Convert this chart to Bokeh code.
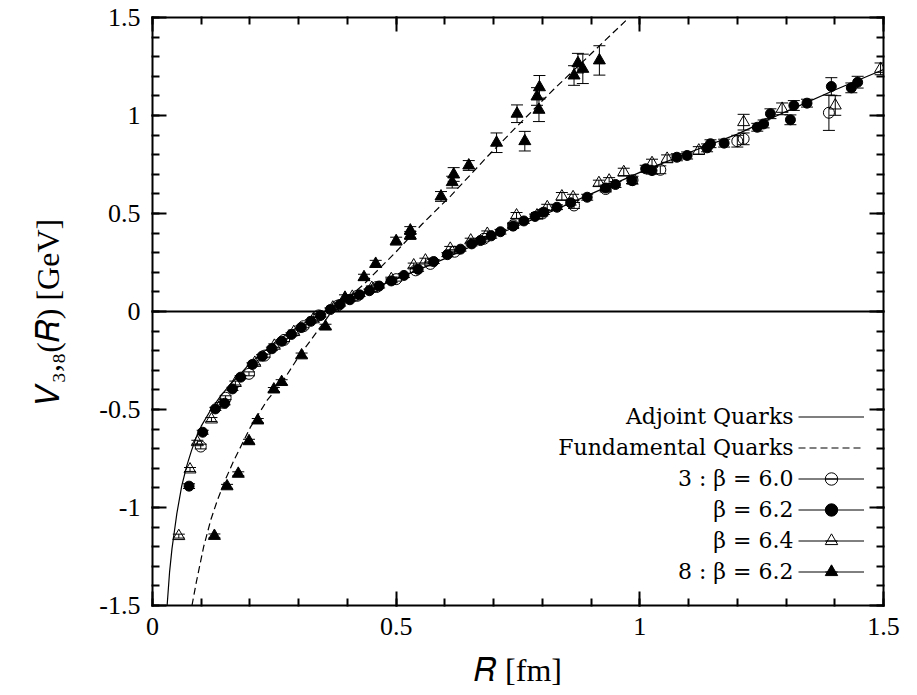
from bokeh.plotting import figure
from bokeh.models import (Range1d, FixedTicker, LinearAxis, Span, Label, Legend, LegendItem)
from bokeh.embed import file_html
from bokeh.resources import INLINE

# ---------------- data ----------------
# "3 : beta = 6.0" (open circles)
r_b60 = [0.099, 0.150, 0.198, 0.230, 0.270, 0.310, 0.341, 0.380, 0.420, 0.460, 0.500, 0.540,
         0.570, 0.620, 0.680, 0.740, 0.800, 0.865, 0.930, 0.985, 1.042, 1.200, 1.213, 1.388]
v_b60 = [-0.689, -0.440, -0.318, -0.225, -0.145, -0.075, -0.020, 0.030, 0.080, 0.125, 0.165, 0.210,
         0.243, 0.305, 0.371, 0.440, 0.500, 0.541, 0.625, 0.670, 0.723, 0.869, 0.881, 1.014]
e_b60 = [0.012, 0.010, 0.010, 0.008, 0.008, 0.008, 0.008, 0.008, 0.008, 0.010, 0.010, 0.010,
         0.010, 0.010, 0.012, 0.012, 0.012, 0.015, 0.015, 0.020, 0.020, 0.030, 0.030, 0.090]

# "beta = 6.2" (filled circles)
r_b62 = [0.075, 0.103, 0.129, 0.148, 0.164, 0.181, 0.205, 0.225, 0.245, 0.265, 0.285, 0.305,
         0.325, 0.345, 0.365, 0.385, 0.405, 0.425, 0.445, 0.465, 0.490, 0.516, 0.545, 0.577,
         0.605, 0.632, 0.655, 0.673, 0.695, 0.714, 0.740, 0.762, 0.785, 0.803, 0.830, 0.858,
         0.892, 0.930, 0.950, 0.984, 1.012, 1.025, 1.076, 1.097, 1.138, 1.145, 1.173, 1.241,
         1.254, 1.268, 1.309, 1.316, 1.343, 1.393, 1.434, 1.447]
v_b62 = [-0.891, -0.616, -0.497, -0.468, -0.395, -0.335, -0.270, -0.228, -0.190, -0.152, -0.117, -0.082,
         -0.050, -0.020, 0.010, 0.036, 0.060, 0.085, 0.106, 0.130, 0.156, 0.184, 0.215, 0.255,
         0.290, 0.318, 0.345, 0.362, 0.386, 0.407, 0.436, 0.462, 0.485, 0.507, 0.532, 0.555,
         0.583, 0.630, 0.648, 0.668, 0.728, 0.719, 0.787, 0.796, 0.835, 0.856, 0.859, 0.940,
         0.957, 1.009, 0.978, 1.051, 1.063, 1.148, 1.141, 1.170]
e_b62 = [0.012, 0.010, 0.008, 0.008, 0.008, 0.008, 0.008, 0.008, 0.008, 0.008, 0.008, 0.008,
         0.008, 0.008, 0.008, 0.008, 0.008, 0.008, 0.008, 0.010, 0.010, 0.010, 0.010, 0.010,
         0.010, 0.010, 0.010, 0.010, 0.012, 0.012, 0.012, 0.012, 0.012, 0.012, 0.012, 0.012,
         0.015, 0.015, 0.015, 0.015, 0.018, 0.018, 0.018, 0.018, 0.020, 0.020, 0.020, 0.020,
         0.020, 0.025, 0.025, 0.025, 0.020, 0.045, 0.025, 0.030]

# "beta = 6.4" (open triangles)
r_b64 = [0.054, 0.077, 0.092, 0.121, 0.140, 0.170, 0.210, 0.250, 0.290, 0.330, 0.370, 0.410,
         0.450, 0.490, 0.536, 0.560, 0.611, 0.653, 0.687, 0.747, 0.789, 0.810, 0.840, 0.863,
         0.916, 0.937, 0.967, 1.025, 1.056, 1.121, 1.213, 1.292, 1.401, 1.494]
v_b64 = [-1.146, -0.806, -0.667, -0.551, -0.475, -0.365, -0.262, -0.175, -0.105, -0.040, 0.020, 0.075,
         0.120, 0.165, 0.235, 0.260, 0.320, 0.362, 0.396, 0.490, 0.490, 0.532, 0.587, 0.583,
         0.655, 0.668, 0.711, 0.757, 0.779, 0.821, 0.966, 1.034, 1.051, 1.238]
e_b64 = [0.010, 0.010, 0.010, 0.010, 0.010, 0.010, 0.010, 0.010, 0.010, 0.010, 0.010, 0.010,
         0.010, 0.010, 0.012, 0.012, 0.012, 0.012, 0.015, 0.015, 0.015, 0.015, 0.020, 0.015,
         0.015, 0.015, 0.020, 0.020, 0.020, 0.020, 0.040, 0.030, 0.050, 0.030]

# "8 : beta = 6.2" (filled triangles)
r_o62 = [0.127, 0.153, 0.176, 0.198, 0.216, 0.249, 0.265, 0.306, 0.355, 0.395, 0.434, 0.458,
         0.500, 0.529, 0.529, 0.592, 0.615, 0.618, 0.649, 0.706, 0.748, 0.764, 0.789, 0.793,
         0.794, 0.865, 0.873, 0.883, 0.917]
v_o62 = [-1.145, -0.892, -0.828, -0.662, -0.556, -0.398, -0.360, -0.224, -0.077, 0.070, 0.175, 0.243,
         0.359, 0.388, 0.413, 0.587, 0.660, 0.699, 0.745, 0.861, 1.009, 0.869, 1.097, 1.029,
         1.144, 1.204, 1.267, 1.238, 1.281]
e_o62 = [0.010, 0.010, 0.010, 0.010, 0.010, 0.010, 0.012, 0.012, 0.012, 0.015, 0.015, 0.018,
         0.020, 0.020, 0.020, 0.025, 0.030, 0.035, 0.025, 0.050, 0.045, 0.050, 0.045, 0.060,
         0.060, 0.050, 0.050, 0.075, 0.075]

# fitted curves
adj_r = [0.030, 0.035, 0.040, 0.045, 0.050, 0.060, 0.070, 0.080, 0.090, 0.100, 0.120, 0.140,
         0.160, 0.180, 0.200, 0.250, 0.300, 0.350, 0.400, 0.500, 0.600, 0.700, 0.800, 0.900,
         1.000, 1.100, 1.200, 1.300, 1.400, 1.500]
adj_v = [-1.50, -1.33, -1.21, -1.12, -1.03, -0.89, -0.79, -0.71, -0.64, -0.585, -0.50, -0.43,
         -0.37, -0.32, -0.265, -0.16, -0.075, -0.005, 0.065, 0.165, 0.27, 0.385, 0.49, 0.60,
         0.71, 0.81, 0.905, 1.02, 1.13, 1.235]
fun_r = [0.081, 0.090, 0.105, 0.120, 0.133, 0.150, 0.167, 0.185, 0.201, 0.235, 0.269, 0.300,
         0.365, 0.434, 0.500, 0.553, 0.612, 0.687, 0.750, 0.824, 0.900, 0.978]
fun_v = [-1.50, -1.38, -1.20, -1.06, -0.964, -0.855, -0.76, -0.67, -0.59, -0.454, -0.35, -0.23,
         -0.01, 0.14, 0.305, 0.445, 0.59, 0.79, 0.95, 1.135, 1.315, 1.50]

x_ticks = [0, 0.5, 1, 1.5]
x_tick_labels = ["0", "0.5", "1", "1.5"]
y_ticks = [-1.5, -1, -0.5, 0, 0.5, 1, 1.5]
y_tick_labels = ["-1.5", "-1", "-0.5", "0", "0.5", "1", "1.5"]
x_minor = [i / 10 for i in range(0, 16)]
y_minor = [i / 10 for i in range(-15, 16)]
legend_labels = ["Adjoint Quarks", "Fundamental Quarks", "3 : β = 6.0", "β = 6.2", "β = 6.4", "8 : β = 6.2"]
x_title = "𝑅 [fm]"
y_title = "𝑉₃,₈(𝑅) [GeV]"

FONT = "Liberation Serif"
LEG_FONT = "DejaVu Serif"

# ---------------- figure ----------------
p = figure(width=917, height=695, x_range=Range1d(x_ticks[0], x_ticks[-1]),
           y_range=Range1d(y_ticks[0], y_ticks[-1]),
           output_backend="svg", toolbar_location=None,
           min_border_left=152, min_border_right=34, min_border_top=17, min_border_bottom=90)
p.xgrid.grid_line_color = None
p.ygrid.grid_line_color = None
p.outline_line_color = None   # the frame is drawn by the four axis lines


def style_axis(ax, ticks, minor, labels):
    ax.ticker = FixedTicker(ticks=ticks, minor_ticks=minor)
    ax.major_tick_in = 14
    ax.major_tick_out = 1
    ax.minor_tick_in = 7
    ax.minor_tick_out = 1
    ax.major_tick_line_color = "black"
    ax.minor_tick_line_color = "black"
    ax.major_tick_line_width = 2
    ax.minor_tick_line_width = 2
    ax.axis_line_color = "black"
    ax.axis_line_width = 2
    ax.major_label_text_font = FONT
    ax.major_label_text_font_size = "26px"
    if labels is None:
        ax.major_label_text_color = None
    else:
        ax.major_label_text_color = "black"
        ax.major_label_overrides = {t: l for t, l in zip(ticks, labels)}


style_axis(p.xaxis[0], x_ticks, x_minor, x_tick_labels)
style_axis(p.yaxis[0], y_ticks, y_minor, y_tick_labels)
p.xaxis[0].major_label_standoff = 11
p.yaxis[0].major_label_standoff = 11
for ax, title, stand in ((p.xaxis[0], x_title, 14), (p.yaxis[0], y_title, 30)):
    ax.axis_label = title
    ax.axis_label_text_font = FONT
    ax.axis_label_text_font_style = "normal"
    ax.axis_label_text_font_size = "32px"
    ax.axis_label_text_color = "black"
    ax.axis_label_standoff = stand

top = LinearAxis()
style_axis(top, x_ticks, x_minor, None)
p.add_layout(top, "above")
right = LinearAxis()
style_axis(right, y_ticks, y_minor, None)
p.add_layout(right, "right")

# zero line
p.add_layout(Span(location=0, dimension="width", line_color="black", line_width=2))

# curves
adj = p.line(adj_r, adj_v, line_color="black", line_width=1.2)
fun = p.line(fun_r, fun_v, line_color="black", line_width=1.2, line_dash="7 4")


def series(r, v, e, marker, size, fill):
    up = [a + b for a, b in zip(v, e)]
    lo = [a - b for a, b in zip(v, e)]
    bar = p.segment(x0=r, y0=lo, x1=r, y1=up, line_color="black", line_width=1)
    cap = p.scatter(r + r, up + lo, marker="dash", size=12, line_color="black", line_width=1)
    pts = p.scatter(r, v, marker=marker, size=size, line_color="black", fill_color=fill, line_width=1)
    return [bar, cap, pts]


g60 = series(r_b60, v_b60, e_b60, "circle", 11, None)
g62 = series(r_b62, v_b62, e_b62, "circle", 10, "black")
g64 = series(r_b64, v_b64, e_b64, "triangle", 12, None)
g8 = series(r_o62, v_o62, e_o62, "triangle", 12, "black")

# ---------------- legend: text on the left (labels), samples on the right (legend glyphs) ----------------
row_y = [189, 158, 127, 96, 65, 34]   # px above the frame bottom
text_x = 641
samp_x0, samp_w = 646, 66
for lab, y in zip(legend_labels, row_y):
    p.add_layout(Label(x=text_x, y=y, x_units="screen", y_units="screen", text=lab,
                       text_align="right", text_baseline="middle", text_font=LEG_FONT,
                       text_font_size="22px", text_color="black"))

samples = Legend(items=[LegendItem(label=" ", renderers=[adj]), LegendItem(label=" ", renderers=[fun]),
                        LegendItem(label=" ", renderers=g60), LegendItem(label=" ", renderers=g62),
                        LegendItem(label=" ", renderers=g64), LegendItem(label=" ", renderers=g8)],
                 location=(samp_x0, row_y[-1] - 15.5), glyph_width=samp_w, glyph_height=31,
                 spacing=0, padding=0, margin=0, border_line_color=None, background_fill_alpha=0,
                 label_text_font_size="2px", label_standoff=0, label_height=31, label_width=0)
p.add_layout(samples)

open("out.html", "w").write(file_html(p, INLINE))
